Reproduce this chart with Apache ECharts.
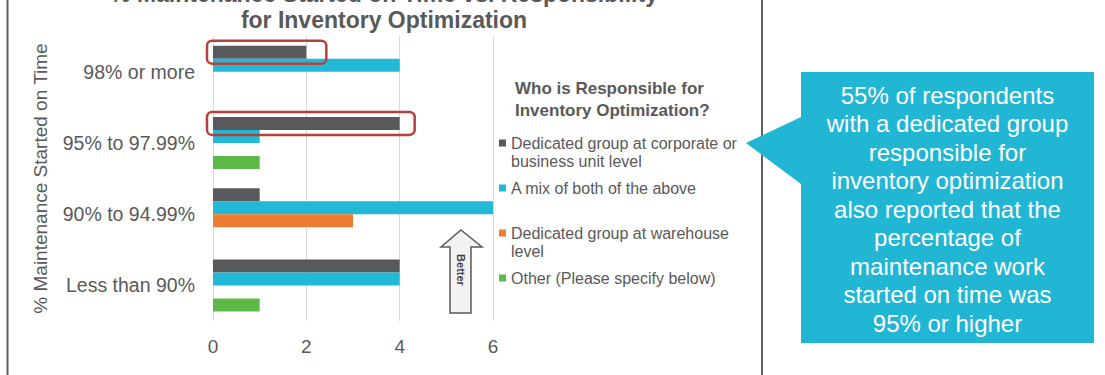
<!DOCTYPE html>
<html>
<head>
<meta charset="utf-8">
<title>% Maintenance Started on Time vs. Responsibility</title>
<script src="https://cdn.jsdelivr.net/npm/echarts@6/dist/echarts.min.js"></script>
<style>
  html, body { margin: 0; padding: 0; background: #fff; }
  #chart { width: 1105px; height: 375px; }
</style>
</head>
<body>
<div id="chart"></div>
<script>
// categories, top to bottom
const categories = ['98% or more', '95% to 97.99%', '90% to 94.99%', 'Less than 90%'];

const seriesNames = [
  'Dedicated group at corporate or business unit level',
  'A mix of both of the above',
  'Dedicated group at warehouse level',
  'Other (Please specify below)',
];
// legend text as it wraps in the original
const legendLabels = [
  'Dedicated group at corporate or\nbusiness unit level',
  'A mix of both of the above\n',
  'Dedicated group at warehouse\nlevel',
  'Other (Please specify below)\n',
];

// number of respondents
const corporateGroup = [2, 4, 1, 4];
const mixOfBoth = [4, 1, 6, 4];
const warehouseGroup = [0, 0, 3, 0];
const otherResp = [0, 1, 0, 1];

const xTicks = [0, 2, 4, 6];
const highlighted = [0, 1]; // rows of the corporate-group bars that are boxed in red

const colors = ['#58595b', '#22b8d6', '#ed7d31', '#5db946'];
const calloutText = [
  '55% of respondents',
  'with a dedicated group',
  'responsible for',
  'inventory optimization',
  'also reported that the',
  'percentage of',
  'maintenance work',
  'started on time was',
  '95% or higher',
];

const FONT = "'Liberation Sans', Arial, sans-serif";
const TEXT = '#595959';

const chart = echarts.init(document.getElementById('chart'), null, { renderer: 'svg' });

const seriesData = [corporateGroup, mixOfBoth, warehouseGroup, otherResp];

chart.setOption({
  animation: false,
  textStyle: { fontFamily: FONT },
  title: {
    text: 'Who is Responsible for\nInventory Optimization?',
    left: 510,
    top: 72,
    textStyle: { fontFamily: FONT, fontSize: 17, fontWeight: 'bold', color: TEXT, lineHeight: 22 },
  },
  legend: {
    orient: 'vertical',
    left: 494,
    top: 129,
    itemWidth: 7,
    itemHeight: 36,
    itemGap: 9,
    selectedMode: false,
    icon: 'path://M0,5.5h7v7h-7z M0,0h0.01 M0,36h0.01',
    data: seriesNames,
    formatter: (name) => legendLabels[seriesNames.indexOf(name)],
    textStyle: { fontFamily: FONT, fontSize: 16, lineHeight: 18, color: TEXT },
  },
  grid: { left: 213, right: 612, top: 36, bottom: 54, containLabel: false },
  xAxis: {
    type: 'value',
    min: xTicks[0],
    max: xTicks[xTicks.length - 1],
    interval: 2,
    axisLine: { show: false },
    axisTick: { show: false },
    splitLine: { lineStyle: { color: '#d9d9d9', width: 1 } },
    axisLabel: { color: TEXT, fontSize: 19, margin: 16, fontFamily: FONT },
  },
  yAxis: {
    type: 'category',
    inverse: true,
    data: categories,
    axisLine: { show: false },
    axisTick: { show: false },
    axisLabel: { color: TEXT, fontSize: 19.5, margin: 18, fontFamily: FONT },
    name: '% Maintenance Started on Time',
    nameLocation: 'middle',
    nameRotate: 90,
    nameGap: 163,
    nameTextStyle: { color: TEXT, fontSize: 19, fontFamily: FONT },
  },
  series: seriesNames.map((name, i) => ({
    name,
    type: 'bar',
    barWidth: 13,
    barGap: '0%',
    itemStyle: { color: colors[i] },
    data: seriesData[i],
  })),
});

// red boxes around the corporate-group bars, placed from the axes
const boxPadRight = [20, 15];
const redBoxes = highlighted.map((row, k) => {
  const start = chart.convertToPixel({ gridIndex: 0 }, [0, row]);
  const end = chart.convertToPixel({ gridIndex: 0 }, [corporateGroup[row], row]);
  const barCenter = start[1] - 19.5; // first of four 13px bars
  return {
    type: 'rect',
    shape: { x: start[0] - 6, y: barCenter - 11.5, width: end[0] - start[0] + 6 + boxPadRight[k], height: 23, r: 5 },
    style: { fill: 'none', stroke: '#b3403a', lineWidth: 2.5 },
    z: 10,
  };
});

chart.setOption({
  graphic: [
    {
      type: 'text',
      style: {
        text: '% Maintenance Started on Time vs. Responsibility\nfor Inventory Optimization',
        x: 384,
        y: -19,
        textAlign: 'center',
        textVerticalAlign: 'top',
        fontFamily: FONT,
        fontSize: 23,
        fontWeight: 'bold',
        lineHeight: 26,
        fill: TEXT,
      },
    },
    // chart frame edges
    { type: 'line', shape: { x1: 7.5, y1: 0, x2: 7.5, y2: 375 }, style: { stroke: '#5f5f5f', lineWidth: 2 } },
    { type: 'line', shape: { x1: 762, y1: 0, x2: 762, y2: 375 }, style: { stroke: '#5f5f5f', lineWidth: 2 } },
    // "Better" arrow
    {
      type: 'polygon',
      shape: { points: [[461, 230], [482, 247], [471, 247], [471, 313], [450, 313], [450, 247], [441, 247]] },
      style: { fill: '#f2f2f2', stroke: '#595959', lineWidth: 1.5 },
    },
    {
      type: 'text',
      x: 461,
      y: 270,
      rotation: -Math.PI / 2,
      style: {
        text: 'Better',
        x: 0,
        y: 0,
        textAlign: 'center',
        textVerticalAlign: 'middle',
        fontFamily: FONT,
        fontSize: 11,
        fontWeight: 'bold',
        fill: '#404040',
      },
    },
    // callout
    {
      type: 'polygon',
      shape: { points: [[801, 72], [1094, 72], [1094, 343], [801, 343], [801, 184], [746, 143], [801, 117]] },
      style: { fill: '#22b6d5' },
    },
    {
      type: 'text',
      style: {
        text: calloutText.join('\n'),
        x: 947.5,
        y: 209,
        textAlign: 'center',
        textVerticalAlign: 'middle',
        fontFamily: FONT,
        fontSize: 24,
        lineHeight: 28.5,
        fill: '#ffffff',
      },
    },
    ...redBoxes,
  ],
});

window.addEventListener('resize', () => chart.resize());
</script>
</body>
</html>
